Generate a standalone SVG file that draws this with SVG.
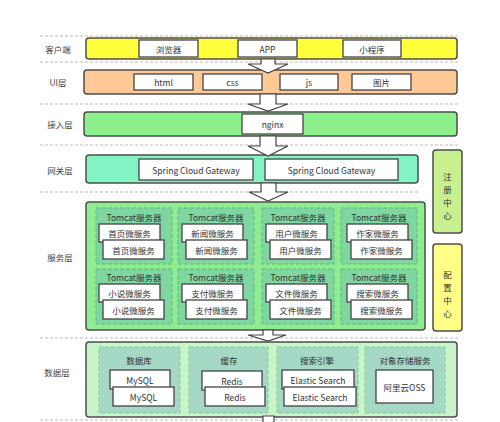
<svg xmlns="http://www.w3.org/2000/svg" width="500" height="422" viewBox="0 0 500 422">
<style>
text{font-family:"Noto Sans CJK SC","Noto Sans",sans-serif;font-size:8.5px;fill:#333;text-anchor:middle;dominant-baseline:central}
.sep{stroke:#bbb;stroke-width:1;stroke-dasharray:3,2;fill:none}
.layer{stroke:#4d4d4d;stroke-width:1.5}
.box{fill:#fff;stroke:#444;stroke-width:1.3}
.tc{fill:#7fd6a0;stroke:#5dbb7d;stroke-width:1;stroke-dasharray:4,2}
.dc{fill:#a6d8c6;stroke:#7fcf8c;stroke-width:1;stroke-dasharray:4,2}
.arrow{fill:#fff;stroke:#444;stroke-width:1.2}
.lbl{font-size:8.5px;fill:#444}
</style>
<g id="separators">
<line class="sep" x1="40" y1="36" x2="458" y2="36"/>
<line class="sep" x1="40" y1="62" x2="458" y2="62"/>
<line class="sep" x1="40" y1="104" x2="458" y2="104"/>
<line class="sep" x1="40" y1="145" x2="458" y2="145"/>
<line class="sep" x1="40" y1="192" x2="420" y2="192"/>
<line class="sep" x1="40" y1="338" x2="458" y2="338"/>
<line class="sep" x1="40" y1="420" x2="458" y2="420"/>
</g>
<g id="labels">
<text class="lbl" x="58" y="49">客户端</text>
<text class="lbl" x="58" y="82">UI层</text>
<text class="lbl" x="60" y="124">接入层</text>
<text class="lbl" x="60" y="170">网关层</text>
<text class="lbl" x="60" y="257">服务层</text>
<text class="lbl" x="57" y="372">数据层</text>
</g>
<g id="client">
<rect class="layer" x="86" y="38" width="371" height="21" rx="3" fill="#ffff3c"/>
<rect class="box" x="139" y="40" width="59" height="17"/><text x="168.5" y="48.5">浏览器</text>
<rect class="box" x="238" y="40" width="59" height="17"/><text x="267.5" y="48.5">APP</text>
<rect class="box" x="343" y="40" width="58" height="17"/><text x="372" y="48.5">小程序</text>
</g>
<g id="ui">
<rect class="layer" x="84" y="70" width="373" height="24" rx="3" fill="#ffc996"/>
<rect class="box" x="134" y="74" width="59" height="16"/><text x="163.5" y="82">html</text>
<rect class="box" x="203" y="74" width="59" height="16"/><text x="232.5" y="82">css</text>
<rect class="box" x="280" y="74" width="58" height="16"/><text x="309" y="82">js</text>
<rect class="box" x="352" y="74" width="59" height="16"/><text x="381.5" y="82">图片</text>
</g>
<g id="access">
<rect class="layer" x="84" y="112" width="373" height="24" rx="3" fill="#8cf08c"/>
<rect class="box" x="242" y="114" width="61" height="20"/><text x="272.5" y="124">nginx</text>
</g>
<g id="gateway">
<rect class="layer" x="86" y="155" width="332" height="28" rx="3" fill="#84f3c4"/>
<rect class="box" x="139" y="159" width="114" height="21"/><text x="196" y="169.5">Spring Cloud Gateway</text>
<rect class="box" x="265" y="159" width="133" height="21"/><text x="331.5" y="169.5">Spring Cloud Gateway</text>
</g>
<g id="registry">
<rect class="layer" x="433" y="150" width="29" height="83" rx="3" fill="#c8f08e"/>
<text x="447.5" y="176">注</text><text x="447.5" y="189">册</text><text x="447.5" y="202">中</text><text x="447.5" y="215">心</text>
</g>
<g id="config">
<rect class="layer" x="433" y="244" width="29" height="87" rx="3" fill="#ffff88"/>
<text x="447.5" y="274">配</text><text x="447.5" y="287">置</text><text x="447.5" y="300">中</text><text x="447.5" y="313">心</text>
</g>
<g id="service">
<rect class="layer" x="86" y="202" width="339" height="128" rx="3" fill="#90ec90"/>
<g id="tc1">
<rect class="tc" x="96" y="208" width="76" height="56"/><text x="134" y="217">Tomcat服务器</text>
<rect class="box" x="99" y="224" width="61" height="18"/><text x="129.5" y="232.5">首页微服务</text>
<rect class="box" x="103" y="240" width="61" height="19"/><text x="133.5" y="250">首页微服务</text>
</g>
<g id="tc2">
<rect class="tc" x="178" y="208" width="76" height="56"/><text x="216" y="217">Tomcat服务器</text>
<rect class="box" x="182" y="224" width="61" height="18"/><text x="212.5" y="232.5">新闻微服务</text>
<rect class="box" x="186" y="240" width="61" height="19"/><text x="216.5" y="250">新闻微服务</text>
</g>
<g id="tc3">
<rect class="tc" x="262" y="208" width="72" height="56"/><text x="298" y="217">Tomcat服务器</text>
<rect class="box" x="266" y="224" width="61" height="18"/><text x="296.5" y="232.5">用户微服务</text>
<rect class="box" x="270" y="240" width="61" height="19"/><text x="300.5" y="250">用户微服务</text>
</g>
<g id="tc4">
<rect class="tc" x="341" y="208" width="76" height="56"/><text x="379" y="217">Tomcat服务器</text>
<rect class="box" x="347" y="224" width="61" height="18"/><text x="377.5" y="232.5">作家微服务</text>
<rect class="box" x="351" y="240" width="61" height="19"/><text x="381.5" y="250">作家微服务</text>
</g>
<g id="tc5">
<rect class="tc" x="96" y="269" width="76" height="55"/><text x="134" y="277">Tomcat服务器</text>
<rect class="box" x="99" y="284" width="61" height="18"/><text x="129.5" y="292.5">小说微服务</text>
<rect class="box" x="103" y="300" width="61" height="19"/><text x="133.5" y="310">小说微服务</text>
</g>
<g id="tc6">
<rect class="tc" x="178" y="269" width="76" height="55"/><text x="216" y="277">Tomcat服务器</text>
<rect class="box" x="182" y="284" width="61" height="18"/><text x="212.5" y="292.5">支付微服务</text>
<rect class="box" x="186" y="300" width="61" height="19"/><text x="216.5" y="310">支付微服务</text>
</g>
<g id="tc7">
<rect class="tc" x="262" y="269" width="72" height="55"/><text x="298" y="277">Tomcat服务器</text>
<rect class="box" x="266" y="284" width="61" height="18"/><text x="296.5" y="292.5">文件微服务</text>
<rect class="box" x="270" y="300" width="61" height="19"/><text x="300.5" y="310">文件微服务</text>
</g>
<g id="tc8">
<rect class="tc" x="341" y="269" width="76" height="55"/><text x="379" y="277">Tomcat服务器</text>
<rect class="box" x="347" y="284" width="61" height="18"/><text x="377.5" y="292.5">搜索微服务</text>
<rect class="box" x="351" y="300" width="61" height="19"/><text x="381.5" y="310">搜索微服务</text>
</g>
</g>
<g id="data">
<rect class="layer" x="86" y="342" width="371" height="75" rx="3" fill="#c9f3c9"/>
<g id="db">
<rect class="dc" x="99" y="347" width="81" height="66"/><text x="139" y="360">数据库</text>
<rect class="box" x="110" y="370" width="60" height="19"/><text x="140" y="379.5">MySQL</text>
<rect class="box" x="113" y="387" width="61" height="19"/><text x="143.5" y="396.5">MySQL</text>
</g>
<g id="cache">
<rect class="dc" x="189" y="347" width="79" height="66"/><text x="229" y="360">缓存</text>
<rect class="box" x="202" y="371" width="60" height="19"/><text x="232" y="380.5">Redis</text>
<rect class="box" x="205" y="387" width="60" height="19"/><text x="235" y="396.5">Redis</text>
</g>
<g id="search">
<rect class="dc" x="277" y="347" width="81" height="66"/><text x="317" y="360">搜索引擎</text>
<rect class="box" x="282" y="370" width="72" height="19"/><text x="318" y="379.5">Elastic Search</text>
<rect class="box" x="284" y="387" width="72" height="19"/><text x="320" y="396.5">Elastic Search</text>
</g>
<g id="oss">
<rect class="dc" x="365" y="347" width="80" height="66"/><text x="405" y="360">对象存储服务</text>
<rect class="box" x="376" y="370" width="57" height="33"/><text x="404.5" y="386.5">阿里云OSS</text>
</g>
</g>
<g id="connectors">
<path class="arrow" d="M261,59 V64 H248 L268,73 L288,64 H275 V59 Z"/>
<path class="arrow" d="M260,94 V104 H248 L268,111 L288,104 H276 V94 Z"/>
<path class="arrow" d="M260,136 V146 H248 L268,156 L288,146 H276 V136 Z"/>
<path class="arrow" d="M261,183 V192 H249 L268,201 L288,192 H276 V183 Z"/>
<path class="arrow" d="M263,330 V335 H248 L268,341 L286,335 H273 V330 Z"/>
<path class="arrow" d="M263,423 V416 H274 V423"/>
</g>
</svg>
